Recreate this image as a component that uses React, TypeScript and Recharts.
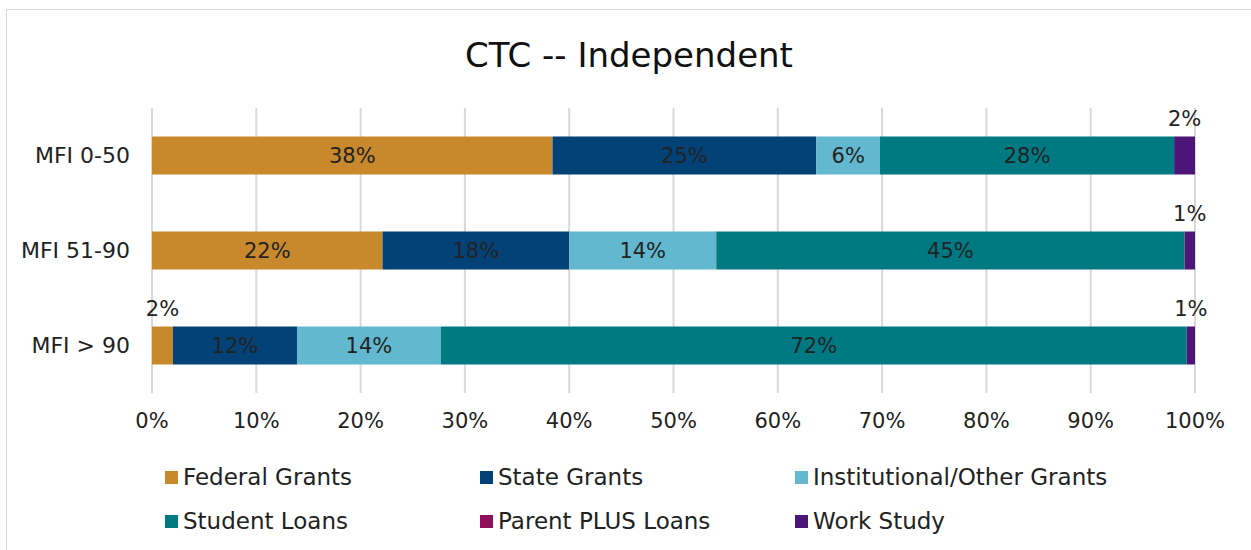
import { BarChart, Bar, XAxis, YAxis, CartesianGrid, LabelList } from "recharts";

const categories = ["MFI 0-50", "MFI 51-90", "MFI > 90"];
const federalGrants = [38.4, 22.1, 2.0];
const stateGrants = [25.3, 17.9, 11.9];
const institutionalGrants = [6.1, 14.1, 13.8];
const studentLoans = [28.2, 44.9, 71.5];
const parentPlusLoans = [0, 0, 0];
const workStudy = [2.0, 1.0, 0.8];
const xTicks = [0, 10, 20, 30, 40, 50, 60, 70, 80, 90, 100];

const series = [
  { key: "federal", name: "Federal Grants", color: "#C8882C", values: federalGrants },
  { key: "state", name: "State Grants", color: "#034277", values: stateGrants },
  { key: "inst", name: "Institutional/Other Grants", color: "#62B8CE", values: institutionalGrants },
  { key: "student", name: "Student Loans", color: "#007A82", values: studentLoans },
  { key: "parent", name: "Parent PLUS Loans", color: "#8F0F5A", values: parentPlusLoans },
  { key: "work", name: "Work Study", color: "#4B1678", values: workStudy },
];

const data = categories.map((name, i) => {
  const row: Record<string, string | number> = { name };
  series.forEach((s) => {
    row[s.key] = s.values[i];
  });
  return row;
});

const FONT = "'DejaVu Sans', sans-serif";

const renderLabel = (props: any) => {
  const { x, y, width, height, value } = props;
  if (!value) return null;
  const small = value < 3;
  const cx = x + width / 2;
  const cy = small ? y - 18 : y + height / 2;
  return (
    <text
      x={cx}
      y={cy}
      textAnchor="middle"
      dominantBaseline="central"
      fontSize={21}
      fill="#222"
      fontFamily={FONT}
    >
      {`${Math.round(value)}%`}
    </text>
  );
};

const App = () => {
  return (
    <div style={{ position: "absolute", left: 0, top: 0, width: 1251, height: 550, background: "#fff", fontFamily: FONT }}>
      <div
        style={{
          position: "absolute",
          left: 6,
          top: 9,
          width: 1250,
          height: 545,
          border: "1px solid #d9d9d9",
          boxSizing: "border-box",
        }}
      />
      <div
        style={{
          position: "absolute",
          left: 0,
          top: 34,
          width: 1258,
          textAlign: "center",
          fontSize: 34,
          color: "#111",
          lineHeight: "42px",
        }}
      >
        CTC -- Independent
      </div>
      <div style={{ position: "absolute", left: 0, top: 0 }}>
        <BarChart
          width={1251}
          height={550}
          data={data}
          layout="vertical"
          barCategoryGap="30%"
          margin={{ top: 108, right: 56, left: 0, bottom: 117 }}
        >
          <CartesianGrid horizontal={false} stroke="#d9d9d9" strokeWidth={2} />
          <XAxis
            type="number"
            domain={[0, 100]}
            ticks={xTicks}
            tickFormatter={(v) => `${v}%`}
            axisLine={false}
            tickLine={false}
            tickSize={0}
            tickMargin={20}
            height={40}
            interval={0}
            tick={{ fontSize: 21, fill: "#222", fontFamily: FONT }}
          />
          <YAxis
            type="category"
            dataKey="name"
            width={152}
            axisLine={false}
            tickLine={false}
            tickSize={0}
            tickMargin={22}
            tick={{ fontSize: 22, fill: "#222", fontFamily: FONT }}
          />
          {series.map((s) => (
            <Bar key={s.key} dataKey={s.key} name={s.name} stackId="a" fill={s.color} isAnimationActive={false}>
              <LabelList dataKey={s.key} content={renderLabel} />
            </Bar>
          ))}
        </BarChart>
      </div>
      {series.map((s, i) => {
        const col = i % 3;
        const row = Math.floor(i / 3);
        return (
          <div
            key={s.key}
            style={{
              position: "absolute",
              left: 165 + col * 315,
              top: 463 + row * 44,
              height: 28,
              display: "flex",
              alignItems: "center",
              fontSize: 23,
              color: "#222",
              whiteSpace: "nowrap",
            }}
          >
            <span style={{ display: "inline-block", width: 13, height: 13, background: s.color, marginRight: 5 }} />
            {s.name}
          </div>
        );
      })}
    </div>
  );
};

export default App;
